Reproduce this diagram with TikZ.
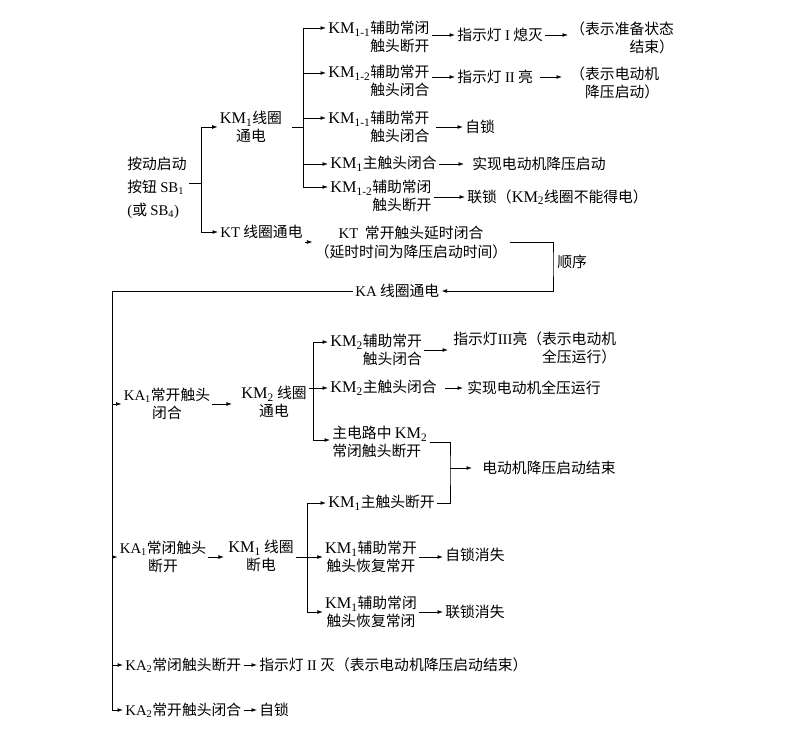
\documentclass[tikz,border=0pt]{standalone}
\usepackage{fontspec}
\setmainfont{Noto Sans CJK SC}
\newfontfamily\lat{Liberation Serif}
\newfontfamily\latk{Liberation Serif}[Scale=1.1]
\usetikzlibrary{arrows.meta}
\newcommand\fs{\fontsize{14.8}{18}\selectfont}
\newcommand\KMs[1]{{\latk KM\textsubscript{#1}}}
\newcommand\KAs[1]{{\lat KA\textsubscript{#1}}}
\begin{document}
\begin{tikzpicture}[x=1pt,y=-1pt,
  t/.style={inner sep=2pt,font=\fs},
  arr/.style={-{Latex[length=5.5pt,width=3.8pt]}},
  line width=0.7pt]
\useasboundingbox[fill=white] (0,0) rectangle (809,733);

% ---------- start ----------
\node[t,anchor=west,align=left,font=\fontsize{14.8}{23}\selectfont] (start) at (125,188)
  {按动启动\\按钮 {\lat SB\textsubscript{1}}\\{\lat(}或 {\lat SB\textsubscript{4})}};
\node[t,align=center] (km1on) at (251,127) {\KMs{1}线圈\\通电};
\node[t,anchor=west] (kt) at (218,232) {{\lat KT} 线圈通电};
\coordinate (j1) at (201,183);
\draw (start.east |- j1) -- (j1);
\draw[arr] (j1 |- km1on.west) -- (km1on.west);
\draw[arr] (j1 |- km1on.west) |- (kt.west);

% ---------- KM1 branch ----------
\node[t,anchor=west,align=right] (a1) at (326,37) {\KMs{1-1}辅助常闭\\触头断开};
\node[t,anchor=west,align=right] (a2) at (326,81) {\KMs{1-2}辅助常开\\触头闭合};
\node[t,anchor=west,align=right] (a3) at (326,127) {\KMs{1-1}辅助常开\\触头闭合};
\node[t,anchor=west] (a4) at (328,164) {\KMs{1}主触头闭合};
\node[t,anchor=west,align=right] (a5) at (328,196) {\KMs{1-2}辅助常闭\\触头断开};
\coordinate (b1t) at (303,28);
\coordinate (b1b) at (303,187);
\coordinate (a2in) at (303,73);
\coordinate (a3in) at (303,118);
\draw[shorten <=8pt] (km1on.east) -- (km1on.east -| b1t);
\draw (b1t) -- (b1b);
\draw[arr] (b1t) -- (b1t -| a1.west);
\draw[arr] (a2in) -- (a2in -| a2.west);
\draw[arr] (a3in) -- (a3in -| a3.west);
\draw[arr] (b1t |- a4.west) -- (a4.west);
\draw[arr] (b1b) -- (b1b -| a5.west);

\node[t,anchor=west] (b1) at (455,35) {指示灯 {\lat I} 熄灭};
\node[t,anchor=west,align=right] (c1) at (568,38) {（表示准备状态\\结束）};
\node[t,anchor=west] (b2) at (455,77) {指示灯 {\lat II} 亮};
\node[t,anchor=west,align=right] (c2) at (568,83) {（表示电动机\\降压启动）};
\node[t,anchor=west] (b3) at (463,127) {自锁};
\node[t,anchor=west] (b4) at (470,164) {实现电动机降压启动};
\node[t,anchor=west] (b5) at (465,197) {联锁（\KMs{2}线圈不能得电）};
\draw[arr] (a1.east |- b1.west) -- (b1.west);
\draw[arr] (b1.east) -- (c1.west |- b1.east);
\draw[arr] (a2.east |- b2.west) -- (b2.west);
\draw[arr,shorten <=5pt,shorten >=6pt] (b2.east) -- (c2.west |- b2.east);
\draw[arr,shorten <=4pt] (a3.east |- b3.west) -- (b3.west);
\draw[arr,shorten >=6pt] (a4.east) -- (b4.west);
\draw[arr] (a5.east |- b5.west) -- (b5.west);

% ---------- KT ----------
\node[t,align=center,font=\fontsize{14.8}{19}\selectfont] (ktc) at (411,242)
  {{\lat KT}\ \ 常开触头延时闭合\\（延时时间为降压启动时间）};
\draw[arr] (kt.east |- ktc.west) -- (ktc.west);
\node[t,anchor=west] (ka) at (353,291) {{\lat KA} 线圈通电};
\coordinate (ord) at (553,262);
\node[t,anchor=west] (order) at (555,262) {顺序};
\draw[arr] (ktc.east) -| (ord) |- (ka.east);

% ---------- main bus ----------
\coordinate (bt) at (112,291);
\coordinate (bb) at (112,710);
\draw (ka.west) -- (bt) -- (bb);

% ---------- KA1 NO ----------
\node[t,align=center] (d1) at (167,404) {\KAs{1}常开触头\\闭合};
\node[t,align=center] (d2) at (274,402) {\KMs{2} 线圈\\通电};
\draw[arr] (bt |- d1.west) -- (d1.west);
\draw[arr,shorten >=7pt] (d1.east) -- (d2.west |- d1.east);

\node[t,anchor=west,align=right] (e1) at (328,350) {\KMs{2}辅助常开\\触头闭合};
\node[t,anchor=west] (e2) at (328,388) {\KMs{2}主触头闭合};
\node[t,anchor=west,align=left] (e3) at (330,442) {主电路中 \KMs{2}\\常闭触头断开};
\coordinate (b2t) at (313,342);
\coordinate (b2b) at (313,440);
\draw[arr] (d2.east |- e2.west) -- (e2.west);
\draw[arr] (b2t) -- (b2t -| e1.west);
\draw[arr] (b2t) -- (b2b) -- (b2b -| e3.west);

\node[t,anchor=west,align=right] (f1) at (451,348) {指示灯{\lat III}亮（表示电动机\\全压运行）};
\node[t,anchor=west] (f2) at (465,388) {实现电动机全压运行};
\draw[arr,shorten >=3pt] (e1.east) -- (f1.west |- e1.east);
\draw[arr,shorten <=6pt,shorten >=2pt] (e2.east) -- (f2.west);

\node[t,anchor=west] (h1) at (480,468) {电动机降压启动结束};
\node[t,anchor=west] (g1) at (326,503) {\KMs{1}主触头断开};
\coordinate (mx) at (450,468);
\draw (e3.east) -| (mx) |- (g1.east);
\draw[arr,shorten >=8pt] (mx) -- (h1.west);

% ---------- KA1 NC ----------
\node[t,align=center] (k1) at (163,557) {\KAs{1}常闭触头\\断开};
\node[t,align=center] (k2) at (261,556) {\KMs{1} 线圈\\断电};
\node[t,align=center] (l2) at (371,557) {\KMs{1}辅助常开\\触头恢复常开};
\node[t,align=center] (l3) at (371,612) {\KMs{1}辅助常闭\\触头恢复常闭};
\node[t,anchor=west] (m2) at (443,555) {自锁消失};
\node[t,anchor=west] (m3) at (443,612) {联锁消失};
\coordinate (b3t) at (307,503);
\coordinate (b3b) at (307,612);
\draw[arr] (bt |- k1.west) -- (k1.west);
\draw[arr,shorten >=2pt] (k1.east) -- (k2.west |- k1.east);
\draw[arr] (k2.east |- l2.west) -- (l2.west);
\draw[arr] (b3t) -- (g1.west);
\draw[arr] (b3t) -- (b3b) -- (b3b -| l3.west);
\draw[arr] (l2.east) -- (m2.west |- l2.east);
\draw[arr] (l3.east) -- (m3.west |- l3.east);

% ---------- KA2 ----------
\node[t,anchor=west] (n1) at (123,665) {\KAs{2}常闭触头断开};
\node[t,anchor=west] (n2) at (257,665) {指示灯 {\lat II} 灭（表示电动机降压启动结束）};
\node[t,anchor=west] (n3) at (123,710) {\KAs{2}常开触头闭合};
\node[t,anchor=west] (n4) at (257,710) {自锁};
\draw[arr] (bt |- n1.west) -- (n1.west);
\draw[arr] (bb) -- (n3.west);
\draw[arr] (n1.east) -- (n2.west);
\draw[arr] (n3.east) -- (n4.west);
\end{tikzpicture}
\end{document}
